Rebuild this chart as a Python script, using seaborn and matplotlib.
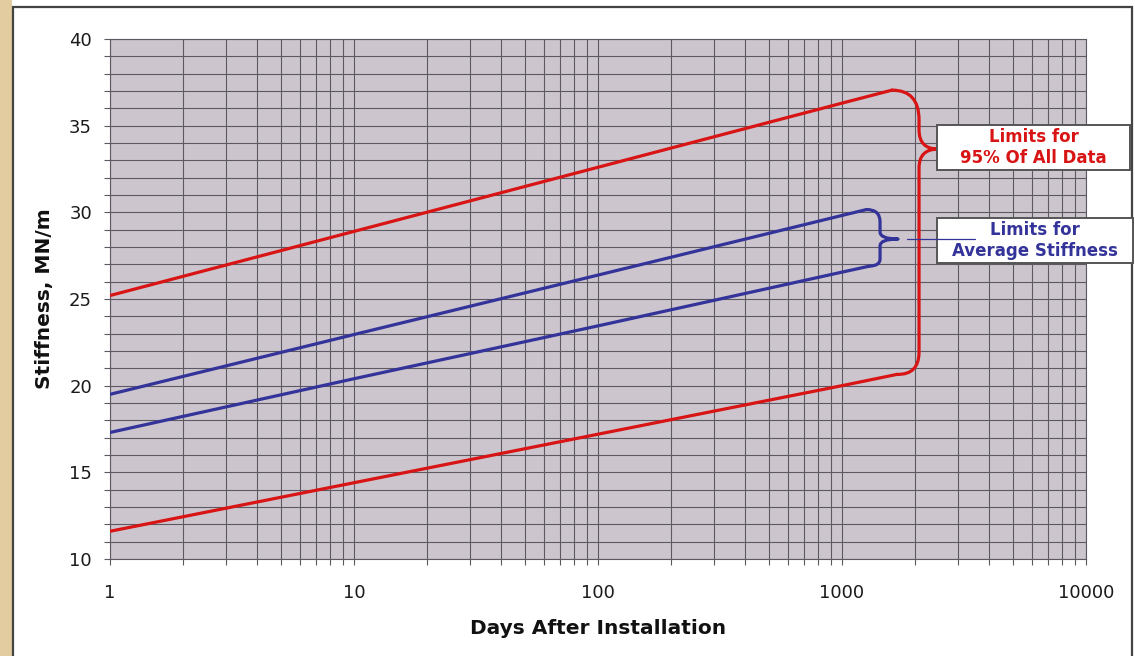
import numpy as np
import pandas as pd
import matplotlib
matplotlib.use("Agg")
import matplotlib.pyplot as plt
import seaborn as sns
from matplotlib.path import Path
from matplotlib.patches import PathPatch, Rectangle
from matplotlib.lines import Line2D
from matplotlib.ticker import MultipleLocator, LogLocator, FixedLocator, NullFormatter

# ---------------- data ----------------
days = [1, 10, 100, 1000]
red_upper_x = days + [1603]
red_upper_y = [25.2, 28.9, 32.6, 36.3, 37.05]
red_lower_x = days + [1680]
red_lower_y = [11.6, 14.4, 17.2, 20.0, 20.65]
blue_upper_x = days + [1260]
blue_upper_y = [19.5, 22.95, 26.38, 29.82, 30.16]
blue_lower_x = days + [1300]
blue_lower_y = [17.3, 20.4, 23.45, 26.55, 26.9]

x_ticks = [1, 10, 100, 1000, 10000]
x_tick_labels = ["1", "10", "100", "1000", "10000"]
y_ticks = [10, 15, 20, 25, 30, 35, 40]

# brace outlines (data coords)
red_brace_x = [1603, 2069, 2069, 2069, 2069, 2474, 2069, 2069, 2069, 2069, 1680]
red_brace_y = [37.05, 37.05, 35.33, 34.75, 33.65, 33.65, 33.65, 32.56, 21.94, 20.62, 20.65]
blue_brace_x = [1260, 1432, 1432, 1432, 1432, 1697, 1432, 1432, 1432, 1432, 1300]
blue_brace_y = [30.16, 30.16, 29.45, 28.87, 28.46, 28.46, 28.46, 28.06, 27.3, 26.92, 26.9]
brace_codes = [Path.MOVETO, Path.CURVE3, Path.CURVE3, Path.LINETO, Path.CURVE3, Path.CURVE3,
               Path.CURVE3, Path.CURVE3, Path.LINETO, Path.CURVE3, Path.CURVE3]
leader_x = [1843, 3508]
leader_y = [28.46, 28.46]

red_label = "Limits for\n95% Of All Data"
blue_label = "Limits for\nAverage Stiffness"

# ---------------- style ----------------
RED = "#d81414"
BLUE = "#33339a"
GRID = "#5e5862"
BG = "#ccc5ce"
W, H = 1135, 656

sns.set_theme(style="white")
plt.rcParams["font.family"] = ["DejaVu Sans"]

fig = plt.figure(figsize=(W / 100, H / 100), dpi=100, facecolor="white")
# tan strip at left and frame
fig.patches.append(Rectangle((0, 0), 12 / W, 1, transform=fig.transFigure,
                             facecolor="#e3cc9f", edgecolor="none", zorder=-10))
fig.patches.append(Rectangle((13 / W, -0.05), (1132 - 13) / W, 1.05 - 7 / H,
                             transform=fig.transFigure, facecolor="white",
                             edgecolor="#444444", lw=1.6, zorder=-10))

ax = fig.add_axes([110 / W, (H - 559) / H, (1086 - 110) / W, (559 - 39) / H])
ax.set_facecolor(BG)

df = pd.concat([
    pd.DataFrame({"x": red_upper_x, "y": red_upper_y, "s": "ru"}),
    pd.DataFrame({"x": red_lower_x, "y": red_lower_y, "s": "rl"}),
    pd.DataFrame({"x": blue_upper_x, "y": blue_upper_y, "s": "bu"}),
    pd.DataFrame({"x": blue_lower_x, "y": blue_lower_y, "s": "bl"}),
])
sns.lineplot(data=df, x="x", y="y", hue="s", units="s", estimator=None, sort=False,
             palette={"ru": RED, "rl": RED, "bu": BLUE, "bl": BLUE},
             lw=2.3, legend=False, ax=ax, zorder=5)

ax.set_xscale("log")
ax.set_xlim(1, 10000)
ax.set_ylim(10, 40)

for bx, by, col in [(red_brace_x, red_brace_y, RED), (blue_brace_x, blue_brace_y, BLUE)]:
    p = Path(np.column_stack([bx, by]), brace_codes)
    ax.add_patch(PathPatch(p, facecolor="none", edgecolor=col, lw=2.3,
                           capstyle="round", joinstyle="round", zorder=5, clip_on=False))

ax.xaxis.set_major_locator(FixedLocator(x_ticks))
ax.set_xticklabels(x_tick_labels)
ax.xaxis.set_minor_locator(LogLocator(base=10, subs=np.arange(2, 10)))
ax.xaxis.set_minor_formatter(NullFormatter())
ax.yaxis.set_major_locator(FixedLocator(y_ticks))
ax.yaxis.set_minor_locator(MultipleLocator(1))

ax.grid(which="both", color=GRID, lw=0.8)
for sp in ax.spines.values():
    sp.set_color(GRID)
    sp.set_linewidth(0.8)
ax.tick_params(which="both", direction="out", length=4, width=0.8, color=GRID,
               bottom=True, left=True)
ax.tick_params(axis="x", which="major", labelsize=13, pad=14, labelcolor="#1a1a1a")
ax.tick_params(axis="y", which="major", labelsize=13, pad=9, labelcolor="#1a1a1a")
ax.set_xlabel("")
ax.set_ylabel("")

fig.text(598 / W, 1 - 629 / H, "Days After Installation", ha="center", va="center",
         fontsize=14.5, fontweight="bold", color="#111111")
fig.text(45 / W, 1 - 299 / H, "Stiffness, MN/m", ha="center", va="center", rotation=90,
         fontsize=14.5, fontweight="bold", color="#111111")

# label boxes
for (x0, y0, x1, y1, txt, col) in [(937, 125, 1130, 170, red_label, RED),
                                   (937, 218, 1133, 263, blue_label, BLUE)]:
    fig.patches.append(Rectangle((x0 / W, 1 - y1 / H), (x1 - x0) / W, (y1 - y0) / H,
                                 transform=fig.transFigure, facecolor="white",
                                 edgecolor="#555555", lw=1.4, zorder=6))
    fig.text((x0 + x1) / 2 / W, 1 - (y0 + y1) / 2 / H, txt, ha="center", va="center",
             fontsize=12, fontweight="bold", color=col, linespacing=1.25, zorder=7)

# thin leader line to the blue label (drawn above the label box)
fig.add_artist(Line2D(leader_x, leader_y, transform=ax.transData, color=BLUE,
                      lw=0.9, zorder=8))

fig.savefig("out.png", dpi=100, facecolor=fig.get_facecolor())
